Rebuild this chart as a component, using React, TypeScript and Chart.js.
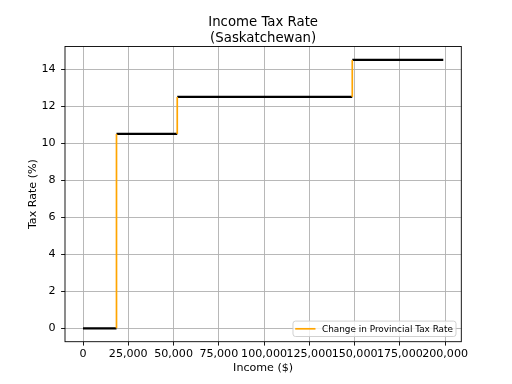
import React, { useEffect, useRef } from "react";
import { Chart, registerables } from "chart.js";

Chart.register(...registerables);

// Saskatchewan brackets (income thresholds in $) and rates (%)
const bracketStarts = [0, 18491, 52057, 148734];
const bracketEnds = [18491, 52057, 148734, 199000];
const taxRates = [0, 10.5, 12.5, 14.5];
const xTickValues = [0, 25000, 50000, 75000, 100000, 125000, 150000, 175000, 200000];
const yTickValues = [0, 2, 4, 6, 8, 10, 12, 14];

const titleLines = ["Income Tax Rate", "(Saskatchewan)"];
const xAxisLabel = "Income ($)";
const yAxisLabel = "Tax Rate (%)";
const legendLabel = "Change in Provincial Tax Rate";

const FONT = "'DejaVu Sans', sans-serif";

const framePlugin = {
  id: "frame",
  afterDatasetsDraw(chart: any) {
    const { ctx, chartArea } = chart;
    ctx.save();
    ctx.strokeStyle = "#000";
    ctx.lineWidth = 0.9;
    ctx.strokeRect(chartArea.left, chartArea.top, chartArea.right - chartArea.left, chartArea.bottom - chartArea.top);
    ctx.restore();
  },
};

const insideLegendPlugin = {
  id: "insideLegend",
  afterDraw(chart: any) {
    const { ctx, chartArea } = chart;
    const ds = chart.data.datasets[1];
    ctx.save();
    ctx.font = `8.9px ${FONT}`;
    const textW = ctx.measureText(ds.label).width;
    const boxH = 15.4;
    const boxW = 29 + textW + 3;
    const x1 = chartArea.right - 5.3;
    const x0 = x1 - boxW;
    const y1 = chartArea.bottom - 5.2;
    const y0 = y1 - boxH;
    const r = 2.5;
    ctx.beginPath();
    ctx.moveTo(x0 + r, y0);
    ctx.lineTo(x1 - r, y0);
    ctx.quadraticCurveTo(x1, y0, x1, y0 + r);
    ctx.lineTo(x1, y1 - r);
    ctx.quadraticCurveTo(x1, y1, x1 - r, y1);
    ctx.lineTo(x0 + r, y1);
    ctx.quadraticCurveTo(x0, y1, x0, y1 - r);
    ctx.lineTo(x0, y0 + r);
    ctx.quadraticCurveTo(x0, y0, x0 + r, y0);
    ctx.closePath();
    ctx.fillStyle = "rgba(255,255,255,0.8)";
    ctx.fill();
    ctx.strokeStyle = "#cccccc";
    ctx.lineWidth = 0.9;
    ctx.stroke();
    const ly = y0 + boxH / 2;
    ctx.beginPath();
    ctx.moveTo(x0 + 2.2, ly);
    ctx.lineTo(x0 + 22.5, ly);
    ctx.strokeStyle = ds.borderColor;
    ctx.lineWidth = ds.borderWidth;
    ctx.stroke();
    ctx.fillStyle = "#000";
    ctx.textBaseline = "middle";
    ctx.textAlign = "left";
    ctx.fillText(ds.label, x0 + 29, ly + 0.5);
    ctx.restore();
  },
};

export default function App() {
  const ref = useRef<HTMLCanvasElement | null>(null);

  useEffect(() => {
    document.body.style.margin = "0";
    const canvas = ref.current;
    if (!canvas) return;

    const rateData: any[] = [];
    for (let i = 0; i < taxRates.length; i++) {
      rateData.push({ x: bracketStarts[i], y: taxRates[i] });
      rateData.push({ x: bracketEnds[i], y: taxRates[i] });
      rateData.push({ x: bracketEnds[i], y: null });
    }
    const changeData: any[] = [];
    for (let i = 1; i < taxRates.length; i++) {
      changeData.push({ x: bracketStarts[i], y: taxRates[i - 1] });
      changeData.push({ x: bracketStarts[i], y: taxRates[i] });
      changeData.push({ x: bracketStarts[i], y: null });
    }

    const xMin = bracketStarts[0];
    const xMax = bracketEnds[bracketEnds.length - 1];
    const xPad = (xMax - xMin) * 0.05;
    const yMin = Math.min(...taxRates);
    const yMax = Math.max(...taxRates);
    const yPad = (yMax - yMin) * 0.05;

    const chart = new Chart(canvas, {
      type: "scatter",
      data: {
        datasets: [
          {
            label: "Tax Rate",
            data: rateData,
            showLine: true,
            borderColor: "#000000",
            borderWidth: 2.2,
            pointRadius: 0,
            spanGaps: false,
            order: 2,
          },
          {
            label: legendLabel,
            data: changeData,
            showLine: true,
            borderColor: "#ffa500",
            borderWidth: 1.7,
            pointRadius: 0,
            spanGaps: false,
            order: 1,
          },
        ],
      },
      options: {
        responsive: false,
        animation: false,
        devicePixelRatio: 1,
        layout: { padding: { left: 0, right: 50.7, top: 0, bottom: 0 } },
        plugins: {
          legend: { display: false },
          tooltip: { enabled: false },
          title: {
            display: true,
            fullSize: false,
            text: titleLines,
            color: "#000",
            font: { family: FONT, size: 13.3, weight: "normal", lineHeight: 1.165 },
            padding: { top: 14.8, bottom: 0.7 },
          },
        },
        scales: {
          x: {
            type: "linear",
            min: xMin - xPad,
            max: xMax + xPad,
            afterBuildTicks: (scale: any) => {
              scale.ticks = xTickValues.map((v) => ({ value: v }));
            },
            afterFit: (scale: any) => {
              scale.height = 42.3;
            },
            ticks: {
              color: "#000",
              font: { family: FONT, size: 11.1 },
              padding: 2.2,
              maxRotation: 0,
              autoSkip: false,
              callback: (v: any) => Number(v).toLocaleString("en-US"),
            },
            grid: { color: "#b0b0b0", lineWidth: 0.9, tickColor: "#000", tickLength: 3.9 },
            border: { display: false },
            title: {
              display: true,
              text: xAxisLabel,
              color: "#000",
              font: { family: FONT, size: 11.1, lineHeight: 1.2 },
              padding: { top: 0, bottom: 8.9 },
            },
          },
          y: {
            type: "linear",
            min: yMin - yPad,
            max: yMax + yPad,
            afterBuildTicks: (scale: any) => {
              scale.ticks = yTickValues.map((v) => ({ value: v }));
            },
            afterFit: (scale: any) => {
              scale.width = 65;
            },
            ticks: {
              color: "#000",
              font: { family: FONT, size: 11.1 },
              padding: 5.5,
              autoSkip: false,
              callback: (v: any) => String(v),
            },
            grid: { color: "#b0b0b0", lineWidth: 0.9, tickColor: "#000", tickLength: 3.9 },
            border: { display: false },
            title: {
              display: true,
              text: yAxisLabel,
              color: "#000",
              font: { family: FONT, size: 11.1, lineHeight: 1.2 },
              padding: { top: 26, bottom: 0 },
            },
          },
        },
      },
      plugins: [framePlugin, insideLegendPlugin],
    } as any);

    return () => {
      chart.destroy();
    };
  }, []);

  return <canvas ref={ref} width={512} height={384} style={{ display: "block", width: 512, height: 384 }} />;
}
